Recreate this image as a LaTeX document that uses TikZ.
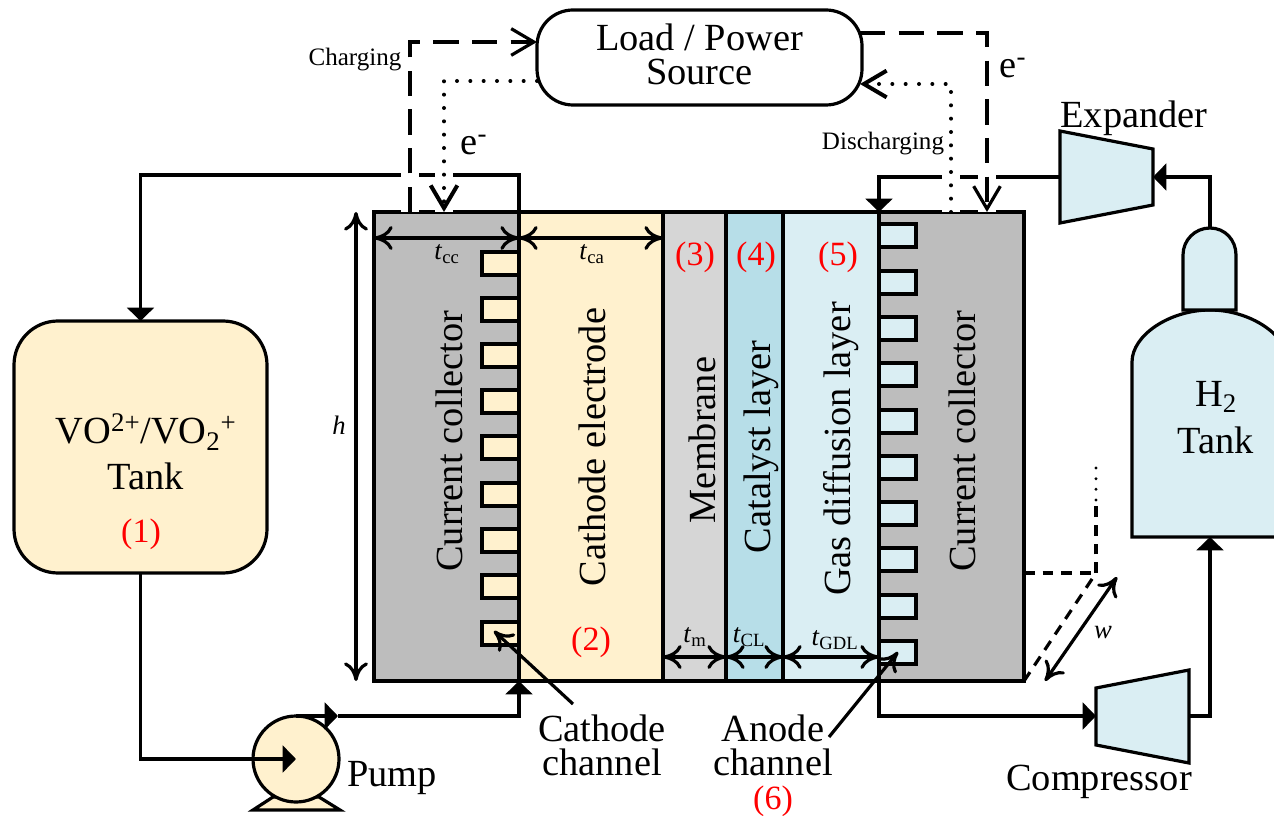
\documentclass[tikz,border=0pt]{standalone}
\usepackage{fontspec}
\usepackage{xcolor}
\setmainfont{Liberation Serif}
\usetikzlibrary{arrows.meta}
\definecolor{creamfill}{RGB}{255, 241, 206}
\definecolor{paleblue}{RGB}{218, 238, 243}
\definecolor{catblue}{RGB}{183, 222, 232}
\definecolor{ccgray}{RGB}{189, 189, 189}
\definecolor{memgray}{RGB}{214, 214, 214}
\tikzset{
  every node/.style={inner sep=0pt, outer sep=0pt},
  wire/.style={line width=2.4pt, line join=miter},
  layerbox/.style={draw, line width=2.4pt, minimum height=351.75pt},
  partbox/.style={draw, line width=2.4pt, fill=paleblue},
  chancat/.style={draw, line width=2.4pt, fill=creamfill},
  chanano/.style={draw, line width=2.4pt, fill=paleblue},
  pipe/.style={wire, -{Triangle[length=10pt,width=20pt]}},
  chargeline/.style={wire, dash pattern=on 19pt off 10pt, -{Straight Barb[length=17pt,width=20pt]},
    preaction={draw=white, solid, line width=14pt, line cap=butt, -}},
  dischargeline/.style={wire, line width=3pt, line cap=round, dash pattern=on 0pt off 10pt, -{Straight Barb[length=17pt,width=20pt]},
    preaction={draw=white, solid, line width=14pt, line cap=butt, -}},
  dimarrow/.style={wire, {Computer Modern Rightarrow[length=14pt,width=18pt]}-{Computer Modern Rightarrow[length=14pt,width=18pt]}},
  callout/.style={wire, -{Computer Modern Rightarrow[length=14pt,width=18pt]}},
  guide/.style={line width=2.4pt, dash pattern=on 8pt off 6pt},
  bigtext/.style={font=\fontsize{28.8}{25.5}\selectfont, align=center},
  redtext/.style={font=\fontsize{25.5}{25.5}\selectfont, red},
  sidetext/.style={font=\fontsize{28.8}{25.5}\selectfont, rotate=90},
  smalltext/.style={font=\fontsize{18.8}{22}\selectfont},
  dimtext/.style={font=\fontsize{20}{22}\selectfont},
}
\begin{document}
\begin{tikzpicture}[x=0.75pt, y=-0.75pt]
  \useasboundingbox (0,0) rectangle (1274,816);
  % cell stack
  \node[layerbox, fill=ccgray, minimum width=108.75pt] (ccleft) at (446.5,446.5) {};
  \node[layerbox, fill=ccgray, minimum width=108.75pt] (ccright) at (951.5,446.5) {};
  \draw[chancat] (482,252) rectangle (519,275);
  \draw[chancat] (482,298) rectangle (519,321);
  \draw[chancat] (482,344) rectangle (519,367);
  \draw[chancat] (482,390) rectangle (519,413);
  \draw[chancat] (482,436) rectangle (519,459);
  \draw[chancat] (482,483) rectangle (519,506);
  \draw[chancat] (482,529) rectangle (519,552);
  \draw[chancat] (482,575) rectangle (519,598);
  \draw[chancat] (482,622) rectangle (519,645);
  \draw[chanano] (879,224) rectangle (916,247);
  \draw[chanano] (879,271) rectangle (916,294);
  \draw[chanano] (879,317) rectangle (916,340);
  \draw[chanano] (879,363) rectangle (916,386);
  \draw[chanano] (879,410) rectangle (916,433);
  \draw[chanano] (879,456) rectangle (916,479);
  \draw[chanano] (879,502) rectangle (916,525);
  \draw[chanano] (879,548) rectangle (916,571);
  \draw[chanano] (879,595) rectangle (916,618);
  \draw[chanano] (879,641) rectangle (916,664);
  \node[layerbox, fill=creamfill, minimum width=108pt] (cathode) at (591,446.5) {};
  \node[layerbox, fill=memgray, minimum width=47.25pt] (membrane) at (694.5,446.5) {};
  \node[layerbox, fill=catblue, minimum width=42.75pt] (catalyst) at (754.5,446.5) {};
  \node[layerbox, fill=paleblue, minimum width=72pt] (gdl) at (831,446.5) {};
  % tanks and machines
  \node[draw, line width=2.4pt, fill=creamfill, rounded corners=33pt, minimum width=189.75pt, minimum height=189pt] (vtank) at (140.5,447) {};
  \draw[partbox] (1132,537) -- (1132,362) .. controls (1132,335) and (1170,310) .. (1210,310) .. controls (1250,310) and (1288,335) .. (1288,362) -- (1288,537) -- cycle;
  \draw[partbox] (1183,310) -- (1183,255) .. controls (1183,240) and (1195,228) .. (1210,228) .. controls (1225,228) and (1236,240) .. (1236,255) -- (1236,310) -- cycle;
  \draw[partbox] (1060,131) -- (1153,149) -- (1153,205) -- (1060,223) -- cycle;
  \draw[partbox] (1096,688) -- (1189,670) -- (1189,763) -- (1096,745) -- cycle;
  \draw[line width=2.4pt, fill=creamfill] (253,810) -- (273,797) -- (319,797) -- (340,810) -- cycle;
  \node[draw, circle, line width=2.4pt, fill=creamfill, minimum size=64.5pt] (pump) at (296,759) {};
  \coordinate (neck) at (1210,228);
  \coordinate (h2in) at (1210,537);
  \coordinate (expin) at (1153,177);
  \coordinate (expout) at (1060,177);
  \coordinate (compin) at (1096,716);
  \coordinate (compout) at (1189,716);
  % pipes
  \draw[pipe] (cathode.north west) -- ++(0,-37) -| (vtank.north);
  \draw[pipe] (vtank.south) |- (pump.center);
  \draw[pipe] (pump.north) -- ++(42,0);
  \draw[pipe] ([xshift=31.5pt]pump.north) -- ++(181,0) -- (cathode.south west);
  \draw[pipe] (gdl.south east) -- ++(0,35) -- (compin);
  \draw[pipe] (compout) -| (h2in);
  \draw[pipe] (neck) |- (expin);
  \draw[pipe] (expout) -| (gdl.north east);
  % electrons
  \coordinate (loadina) at (537,42);
  \coordinate (loadinb) at (537,81);
  \coordinate (loadouta) at (860,33);
  \coordinate (loadoutb) at (860,84);
  \coordinate (chgleft) at (410,212);
  \coordinate (dchleft) at (444,212);
  \coordinate (dchright) at (951,212);
  \coordinate (chgright) at (987,212);
  \draw[chargeline] (chgleft) |- (loadina);
  \draw[chargeline] (loadouta) -| (chgright);
  \draw[dischargeline] (loadinb) -| (dchleft);
  \draw[dischargeline] (dchright) |- (loadoutb);
  \node[draw, line width=2.4pt, fill=white, rounded corners=27pt, minimum width=243.75pt, minimum height=71.25pt, bigtext] (load) at (699.5,57.5) {Load / Power\\Source\rule[-5.6pt]{0pt}{0pt}};
  % dimensions
  \coordinate (dimtop) at (0,238);
  \coordinate (dimbot) at (0,657);
  \coordinate (htop) at (356,212);
  \coordinate (hbot) at (356,681);
  \draw[dimarrow] (htop) -- (hbot);
  \draw[dimarrow] (ccleft.west |- dimtop) -- (cathode.west |- dimtop);
  \draw[dimarrow] (cathode.west |- dimtop) -- (membrane.west |- dimtop);
  \draw[dimarrow] (membrane.west |- dimbot) -- (catalyst.west |- dimbot);
  \draw[dimarrow] (catalyst.west |- dimbot) -- (gdl.west |- dimbot);
  \draw[dimarrow] (gdl.west |- dimbot) -- (ccright.west |- dimbot);
  \coordinate (wbot) at (1045,681);
  \coordinate (wtop) at (1117,577);
  \draw[dimarrow] (wbot) -- (wtop);
  \coordinate (corner) at (1096,573);
  \coordinate (cornerup) at (1096,500);
  \coordinate (cornertop) at (1096,463);
  \draw[guide] (ccright.south east) -- (corner);
  \draw[guide] (ccright.east |- corner) -- (corner);
  \draw[guide] (corner) -- (cornerup);
  \draw[line width=2.4pt, line cap=round, dash pattern=on 0pt off 8pt] (cornerup) -- (cornertop);
  % callouts
  \coordinate (cathtail) at (573,704);
  \coordinate (cathtip) at (494,631);
  \coordinate (anotail) at (829,737);
  \coordinate (anotip) at (898,652);
  \draw[callout] (cathtail) -- (cathtip);
  \draw[callout] (anotail) -- (anotip);
  % labels
  \node[sidetext] (lblccl) at (449,441) {Current collector};
  \node[sidetext] (lblcat) at (592,447) {Cathode electrode};
  \node[sidetext] (lblmem) at (702,440) {Membrane};
  \node[sidetext] (lblcl) at (761,447) {Catalyst layer};
  \node[sidetext] (lblgdl) at (841,449) {Gas diffusion layer};
  \node[sidetext] (lblccr) at (962,441) {Current collector};
  \node[redtext] (num1) at (141,534) {(1)};
  \node[redtext] (num2) at (591,642) {(2)};
  \node[redtext] (num3) at (695,257) {(3)};
  \node[redtext] (num4) at (756,257) {(4)};
  \node[redtext] (num5) at (838,257) {(5)};
  \node[redtext] (num6) at (773,801) {(6)};
  \node[bigtext] (lblvo) at (146,432) {VO\textsuperscript{2+}/VO\textsubscript{2}\textsuperscript{+}};
  \node[bigtext] (lbltank) at (146,476) {Tank};
  \node[bigtext] (lblh2) at (1216,397) {H\textsubscript{2}};
  \node[bigtext] (lblh2t) at (1216,440) {Tank};
  \node[bigtext] (lblexp) at (1134,118) {Expander};
  \node[bigtext] (lblcomp) at (1099,782) {Compressor};
  \node[bigtext] (lblpump) at (392,778) {Pump};
  \node[bigtext] (lblcc) at (602,745) {Cathode\\channel};
  \node[bigtext] (lblac) at (773,745) {Anode\\channel};
  \node[bigtext] (lble1) at (474,145) {e\textsuperscript{-}};
  \node[bigtext] (lble2) at (1013,68) {e\textsuperscript{-}};
  \node[smalltext] (lblchg) at (355,60) {Charging};
  \node[smalltext] (lbldch) at (883,144) {Discharging};
  \node[dimtext] (lblh) at (339,425) {\textit{h}};
  \node[dimtext] (lblw) at (1103,633) {\textit{w}};
  \node[dimtext] (lbltcc) at (447,254) {\textit{t}\textsubscript{cc}};
  \node[dimtext] (lbltca) at (592,254) {\textit{t}\textsubscript{ca}};
  \node[dimtext] (lbltm) at (695,637) {\textit{t}\textsubscript{m}};
  \node[dimtext] (lbltcl) at (749,637) {\textit{t}\textsubscript{CL}};
  \node[dimtext] (lbltgdl) at (835,640) {\textit{t}\textsubscript{GDL}};
\end{tikzpicture}
\end{document}
